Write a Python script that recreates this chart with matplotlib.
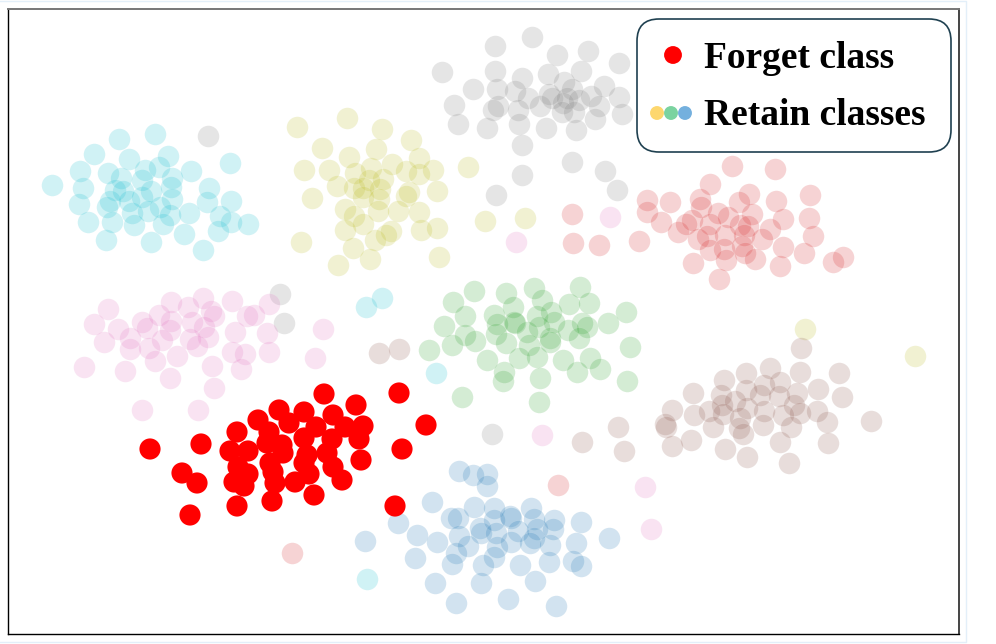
import matplotlib
matplotlib.use('Agg')
import matplotlib.pyplot as plt
from matplotlib.lines import Line2D
from matplotlib.patches import FancyBboxPatch

# 坐标直接从图上读出来的 (t-SNE 没有刻度)
cyan_x = [52,80,83,79,88,106,94,119,155,129,108,121,115,123,110,107,112,132,129,142,151,142,145,159,168,172,171,172,191,209,207,230,231,220,231,248,218,203,184,151,134,148,160,170,163,189,366,382,436,367]
cyan_y = [185,171,188,204,222,240,154,139,134,159,173,178,190,191,201,207,222,213,201,197,191,180,170,167,156,178,187,199,171,188,202,163,201,216,222,224,231,250,234,242,225,211,207,215,224,213,307,298,373,579]

gray_x = [442,495,532,557,588,619,495,473,454,458,487,497,498,493,522,515,528,518,519,522,540,546,548,564,581,572,549,552,567,563,562,574,579,591,604,619,599,595,622,576,522,572,605,617,496,208,280,284,492]
gray_y = [72,46,37,55,51,63,71,89,105,124,128,89,106,110,78,91,98,110,124,145,106,128,74,82,71,89,94,98,98,103,112,112,100,96,86,97,106,119,114,130,175,162,171,190,195,136,294,323,434]

yellow_x = [297,347,382,411,322,349,376,419,304,329,355,371,392,406,419,433,312,337,354,363,383,369,380,363,379,409,406,437,345,354,378,398,419,363,345,391,386,375,421,437,301,353,338,370,439,468,485,525,805,915]
yellow_y = [127,118,129,140,148,157,149,158,170,170,173,168,164,171,174,170,198,186,188,188,179,180,189,197,199,192,196,191,209,216,211,211,212,224,230,231,235,240,230,228,242,248,265,259,257,167,221,218,329,356]

red_x = [732,775,710,647,670,700,701,749,739,776,810,647,661,678,639,686,692,718,728,752,740,748,783,809,710,698,707,725,744,770,762,813,710,724,742,745,755,783,804,693,726,780,719,833,843,572,573,599,558,292]
red_y = [166,169,184,200,202,199,207,194,202,201,195,212,222,232,241,224,220,213,217,214,225,226,219,218,224,239,236,235,235,229,239,236,250,249,246,253,259,247,253,263,260,266,279,262,257,214,243,245,485,553]

pink_x = [84,108,94,104,118,130,130,125,142,147,149,155,159,171,171,170,162,177,170,188,203,211,214,192,204,208,190,197,232,247,254,269,235,267,232,245,269,241,212,214,142,198,323,315,516,610,542,645,651]
pink_y = [367,309,324,342,329,338,349,371,322,328,348,361,315,302,321,330,340,356,378,307,298,311,316,322,327,337,339,346,301,316,315,304,332,333,352,354,352,369,366,388,410,410,329,358,242,217,435,487,529]

green_x = [429,453,474,444,465,452,465,475,487,506,534,542,513,494,497,496,506,514,515,527,537,551,554,539,550,550,529,519,537,504,503,540,462,539,563,577,590,600,568,582,587,579,569,589,580,608,626,630,627]
green_y = [350,302,291,326,316,345,335,341,360,293,288,300,307,315,324,334,343,322,323,332,316,312,322,327,338,342,345,358,357,372,381,378,397,402,360,372,358,369,330,323,327,338,304,303,287,323,312,347,381]

blue_x = [459,473,487,487,432,474,494,451,458,398,417,437,365,459,480,481,494,496,510,511,518,511,531,534,537,534,530,554,553,581,609,576,550,468,456,497,494,415,452,483,520,549,573,581,435,481,535,456,508,556]
blue_y = [471,475,474,486,502,507,508,518,518,523,535,542,541,536,528,533,520,533,516,518,531,542,508,519,529,538,543,520,529,522,538,543,545,546,553,547,557,558,564,565,565,562,561,566,583,583,581,603,599,606]

brown_x = [801,770,746,724,800,839,693,721,746,764,780,797,818,842,871,672,694,709,722,723,735,747,760,779,794,800,817,764,783,827,665,666,691,713,740,739,743,763,791,780,828,672,725,747,789,379,399,618,582,624]
brown_y = [348,368,373,380,372,373,393,395,390,385,382,393,389,397,421,410,415,411,405,414,401,408,395,396,405,413,411,411,415,422,424,427,440,427,418,428,434,425,427,442,443,446,449,457,463,353,349,427,442,451]

forget_x = [324,356,399,426,279,304,258,289,333,316,345,363,237,269,267,304,332,359,201,150,230,248,282,283,307,327,361,402,238,248,270,273,304,309,333,342,182,197,234,244,275,295,314,272,237,190,395]
forget_y = [394,405,393,425,410,412,420,423,415,427,427,426,432,432,443,438,439,439,444,449,451,451,445,453,455,453,460,449,467,474,463,472,463,474,467,480,473,483,482,486,483,482,495,501,506,515,506]

retain_series = [
    (cyan_x, cyan_y, '#17becf'),
    (gray_x, gray_y, '#7f7f7f'),
    (yellow_x, yellow_y, '#bcbd22'),
    (red_x, red_y, '#d62728'),
    (pink_x, pink_y, '#e377c2'),
    (green_x, green_y, '#2ca02c'),
    (blue_x, blue_y, '#1f77b4'),
    (brown_x, brown_y, '#8c564b'),
]

W, H = 996, 644
fig = plt.figure(figsize=(W / 100, H / 100), dpi=100)

# 外面那圈淡蓝色的页面边框, 左边没有
fig.add_artist(Line2D([0, 966 / W, 966 / W, 0], [1 - 1 / H, 1 - 1 / H, 2 / H, 2 / H],
                      transform=fig.transFigure, color='#e3eff9', linewidth=1))

ax = fig.add_axes([8 / W, (H - 634) / H, (959 - 8) / W, (634 - 9) / H])
ax.set_xlim(8, 959)
ax.set_ylim(634, 9)
ax.set_xticks([])
ax.set_yticks([])
for side in ax.spines:
    ax.spines[side].set_linewidth(1.0)
    ax.spines[side].set_color('black')
ax.spines['top'].set_color('#777777')
ax.spines['top'].set_linewidth(1.4)
ax.spines['right'].set_color('#444444')
ax.spines['right'].set_linewidth(1.4)

for xs, ys, c in retain_series:
    ax.scatter(xs, ys, s=240, color=c, alpha=0.2, edgecolors='white', linewidths=0.3, zorder=2)
ax.scatter(forget_x, forget_y, s=232, color='red', edgecolors='none', zorder=3)

# 图例
box = FancyBboxPatch((637 + 22, 19 + 22), 314 - 44, 133 - 44, boxstyle='round,pad=22',
                     facecolor='white', edgecolor='#1f4050', linewidth=1.2, zorder=5)
ax.add_patch(box)
ax.scatter([673], [55], s=165, color='red', edgecolors='none', zorder=6)
ax.scatter([657, 671, 685], [113, 113, 113], s=100, color=['#fdd76e', '#7bd3a0', '#74b0de'],
           edgecolors='none', zorder=6)
ax.text(704, 68, 'Forget class', family='Liberation Serif', weight='bold', fontsize=27,
        ha='left', va='baseline', zorder=6)
ax.text(704, 125, 'Retain classes', family='Liberation Serif', weight='bold', fontsize=27,
        ha='left', va='baseline', zorder=6)

fig.savefig('out.png', dpi=100)
